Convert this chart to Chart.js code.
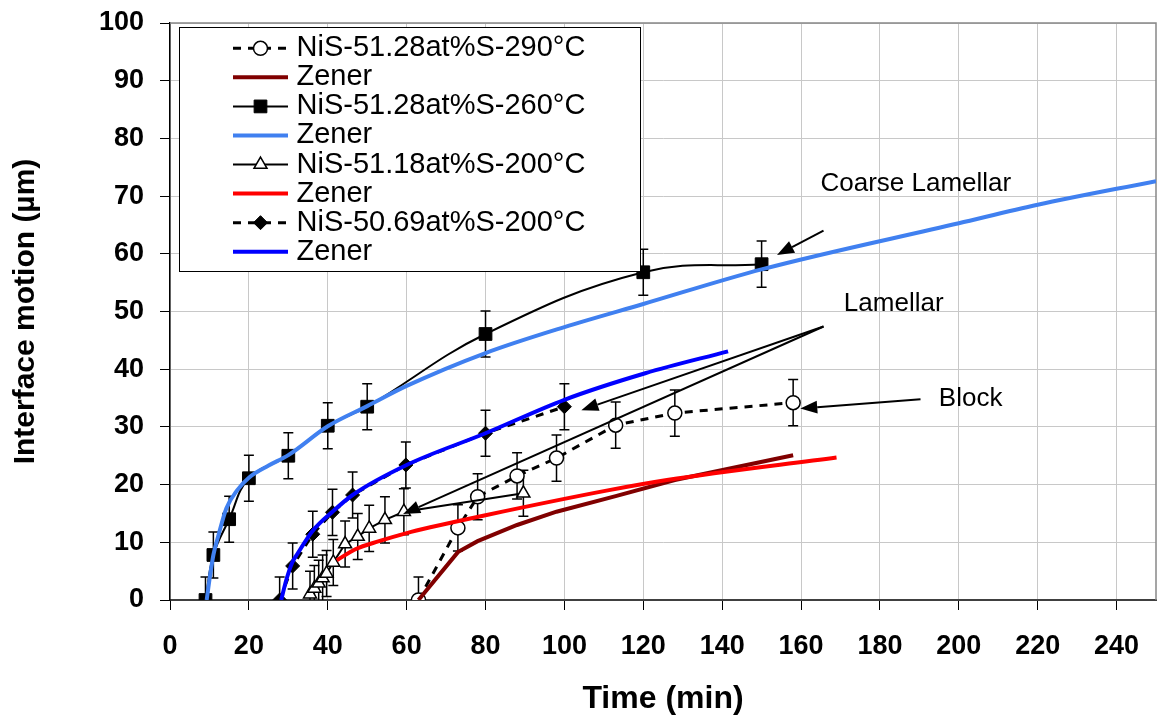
<!DOCTYPE html>
<html>
<head>
<meta charset="utf-8">
<script src="https://cdn.jsdelivr.net/npm/chart.js@4.4.1/dist/chart.umd.min.js"></script>
<style>
html,body{margin:0;padding:0;background:#fff;}
#wrap{width:1166px;height:720px;position:relative;}
</style>
</head>
<body>
<div id="wrap"><canvas id="c" width="1166" height="720"></canvas></div>
<script>
// ---------- DATA ----------
const xTickStep = 20;
const yTickStep = 10;

// NiS-51.28at%S-290°C (open circles, dashed)
const circT   = [63, 73, 78, 88, 98, 113, 128, 158];
const circV   = [0, 12.5, 17.9, 21.5, 24.6, 30.3, 32.4, 34.2];
const circErr = [4, 4, 4, 4, 4, 4, 4, 4];
// Zener (dark red)
const zDarkRedT = [63, 73, 78, 88, 98, 113, 128, 158];
const zDarkRedV = [0, 8.3, 10.2, 13.0, 15.3, 18.0, 20.8, 25.1];
// NiS-51.28at%S-260°C (filled squares)
const sqT   = [9, 11, 15, 20, 30, 40, 50, 80, 120, 150];
const sqV   = [0, 7.8, 14.0, 21.1, 25.0, 30.2, 33.5, 46.1, 56.8, 58.2];
const sqErr = [4, 4, 4, 4, 4, 4, 4, 4, 4, 4];
// Zener (light blue)
const zLightBlueT = [9.3, 10, 11, 12.2, 14.3, 17, 20, 25, 30, 40, 50, 60, 80, 100, 120, 150, 200, 220, 250];
const zLightBlueV = [0, 3.5, 7.8, 11.0, 15.9, 19.0, 21.2, 23.3, 25.1, 30.1, 33.6, 37.1, 42.8, 47.3, 51.3, 57.3, 65.3, 68.5, 72.6];
// NiS-51.18at%S-200°C (open triangles)
const triT   = [35.5, 36.6, 37.7, 38.7, 39.7, 41.4, 44.4, 47.6, 50.5, 54.5, 59.3, 89.6];
const triV   = [1.0, 2.0, 2.9, 3.8, 4.6, 6.5, 9.7, 11.0, 12.4, 13.9, 15.3, 18.5];
const triErr = [4, 4, 4, 4, 4, 4, 4, 4, 4, 4, 4, 4];
// Zener (red)
const zRedT = [42.3, 47, 53, 60, 66, 80, 111, 126, 169];
const zRedV = [6.9, 8.8, 10.2, 11.6, 12.6, 14.7, 19.0, 20.8, 24.7];
// NiS-50.69at%S-200°C (filled diamonds, dashed)
const diaT   = [27.8, 31.1, 36.2, 41.2, 46.3, 59.8, 80, 100];
const diaV   = [0, 5.9, 11.4, 15.2, 18.2, 23.4, 28.9, 33.5];
const diaErr = [4, 4, 4, 4, 4, 4, 4, 4];
// Zener (blue)
const zBlueT = [28.2, 29.5, 31, 32.4, 36.2, 41.2, 46.3, 60, 80, 100, 120.5, 141.5];
const zBlueV = [0, 3.5, 6.5, 8.1, 12.0, 15.3, 18.2, 23.4, 28.9, 34.7, 39.3, 43.1];

const seriesLabels = ['NiS-51.28at%S-290°C', 'Zener', 'NiS-51.28at%S-260°C', 'Zener',
                      'NiS-51.18at%S-200°C', 'Zener', 'NiS-50.69at%S-200°C', 'Zener'];

// Annotations (data units)
const noteText  = ['Coarse Lamellar', 'Lamellar', 'Block'];
const noteT     = [189.1, 183.5, 203];
const noteV     = [72.1, 51.3, 34.8];
const arrowFromT = [165.7, 165.7, 165.7, 190.3];
const arrowFromV = [64.0, 47.4, 47.4, 34.8];
const arrowToT   = [153.9, 104.3, 59.1, 159.8];
const arrowToV   = [59.8, 32.9, 14.9, 33.2];

// ---------- BUILD ----------
function pts(T, V) { return T.map((t, i) => ({x: t, y: V[i]})); }
const FONT = '"Liberation Sans", Arial, sans-serif';

const datasets = [
  {label: seriesLabels[0], data: pts(circT, circV), errors: circErr, borderColor: '#000', borderWidth: 3, borderDash: [8, 7],
   pointStyle: 'circle', pointRadius: 7, pointBackgroundColor: '#fff', pointBorderColor: '#000', pointBorderWidth: 1.5, tension: 0},
  {label: seriesLabels[1], data: pts(zDarkRedT, zDarkRedV), borderColor: '#800000', borderWidth: 4, pointRadius: 0, tension: 0},
  {label: seriesLabels[2], data: pts(sqT, sqV), errors: sqErr, borderColor: '#000', borderWidth: 2,
   pointStyle: 'rect', pointRadius: 9, pointBackgroundColor: '#000', pointBorderColor: '#000', pointBorderWidth: 1, tension: 0.4},
  {label: seriesLabels[3], data: pts(zLightBlueT, zLightBlueV), borderColor: '#4080f0', borderWidth: 4, pointRadius: 0, cubicInterpolationMode: 'monotone'},
  {label: seriesLabels[4], data: pts(triT, triV), errors: triErr, borderColor: '#000', borderWidth: 2,
   pointStyle: 'triangle', pointRadius: 7.5, pointBackgroundColor: '#fff', pointBorderColor: '#000', pointBorderWidth: 1.5, tension: 0},
  {label: seriesLabels[5], data: pts(zRedT, zRedV), borderColor: '#ff0000', borderWidth: 4, pointRadius: 0, cubicInterpolationMode: 'monotone'},
  {label: seriesLabels[6], data: pts(diaT, diaV), errors: diaErr, borderColor: '#000', borderWidth: 3, borderDash: [8, 7],
   pointStyle: 'rectRot', pointRadius: 7, pointBackgroundColor: '#000', pointBorderColor: '#000', pointBorderWidth: 1, tension: 0},
  {label: seriesLabels[7], data: pts(zBlueT, zBlueV), borderColor: '#0000ff', borderWidth: 4, pointRadius: 0, cubicInterpolationMode: 'monotone'}
];
datasets.forEach((d, i) => { d.showLine = true; d.order = datasets.length - i; d.pointHoverRadius = d.pointRadius; });

function drawMarker(ctx, ds, x, y) {
  if (!ds.pointRadius) return;
  ctx.save();
  ctx.setLineDash([]);
  ctx.fillStyle = ds.pointBackgroundColor;
  ctx.strokeStyle = ds.pointBorderColor;
  ctx.lineWidth = ds.pointBorderWidth;
  Chart.helpers.drawPoint(ctx, {pointStyle: ds.pointStyle, radius: ds.pointRadius, rotation: 0, borderWidth: ds.pointBorderWidth}, x, y);
  ctx.restore();
}

const framePlugin = {
  id: 'frame',
  beforeDatasetsDraw(chart) {
    const {ctx, chartArea: a} = chart;
    ctx.save();
    ctx.strokeStyle = '#888';
    ctx.lineWidth = 1.5;
    ctx.beginPath();
    ctx.moveTo(a.left, a.top); ctx.lineTo(a.right, a.top); ctx.lineTo(a.right, a.bottom);
    ctx.stroke();
    ctx.restore();
  }
};

const errorBarPlugin = {
  id: 'errorBars',
  beforeDatasetsDraw(chart) {
    const {ctx, chartArea: a} = chart;
    const xs = chart.scales.x, ys = chart.scales.y;
    ctx.save();
    ctx.beginPath();
    ctx.rect(a.left, a.top, a.right - a.left, a.bottom - a.top);
    ctx.clip();
    ctx.strokeStyle = '#000';
    ctx.lineWidth = 1.5;
    chart.data.datasets.forEach(ds => {
      if (!ds.errors) return;
      ds.data.forEach((p, i) => {
        const e = ds.errors[i];
        const px = xs.getPixelForValue(p.x);
        const y1 = ys.getPixelForValue(p.y + e), y2 = ys.getPixelForValue(p.y - e);
        ctx.beginPath();
        ctx.moveTo(px, y1); ctx.lineTo(px, y2);
        ctx.moveTo(px - 5, y1); ctx.lineTo(px + 5, y1);
        ctx.moveTo(px - 5, y2); ctx.lineTo(px + 5, y2);
        ctx.stroke();
      });
    });
    ctx.restore();
  }
};

const notesPlugin = {
  id: 'notes',
  afterDatasetsDraw(chart) {
    const {ctx} = chart;
    const xs = chart.scales.x, ys = chart.scales.y;
    ctx.save();
    ctx.strokeStyle = '#000';
    ctx.fillStyle = '#000';
    ctx.lineWidth = 2;
    for (let i = 0; i < arrowFromT.length; i++) {
      const x0 = xs.getPixelForValue(arrowFromT[i]), y0 = ys.getPixelForValue(arrowFromV[i]);
      const x1 = xs.getPixelForValue(arrowToT[i]), y1 = ys.getPixelForValue(arrowToV[i]);
      const ang = Math.atan2(y1 - y0, x1 - x0);
      const hl = 17, hw = 6.5;
      const bx = x1 - Math.cos(ang) * hl, by = y1 - Math.sin(ang) * hl;
      ctx.beginPath(); ctx.moveTo(x0, y0); ctx.lineTo(bx, by); ctx.stroke();
      ctx.beginPath();
      ctx.moveTo(x1, y1);
      ctx.lineTo(bx + Math.sin(ang) * hw, by - Math.cos(ang) * hw);
      ctx.lineTo(bx - Math.sin(ang) * hw, by + Math.cos(ang) * hw);
      ctx.closePath(); ctx.fill();
    }
    ctx.font = '26px ' + FONT;
    ctx.textAlign = 'center';
    ctx.textBaseline = 'middle';
    noteText.forEach((t, i) => ctx.fillText(t, xs.getPixelForValue(noteT[i]), ys.getPixelForValue(noteV[i])));
    ctx.restore();
  }
};

const boxLegendPlugin = {
  id: 'boxLegend',
  afterDraw(chart) {
    const {ctx} = chart;
    const L = 179.5, T = 27.5, R = 640.5, B = 271.5;
    ctx.save();
    ctx.fillStyle = '#fff';
    ctx.fillRect(L, T, R - L, B - T);
    ctx.strokeStyle = '#000';
    ctx.lineWidth = 1;
    ctx.strokeRect(L, T, R - L, B - T);
    chart.data.datasets.forEach((ds, i) => {
      const y = 48.3 + i * 29.06;
      ctx.save();
      ctx.strokeStyle = ds.borderColor;
      ctx.lineWidth = ds.borderWidth;
      ctx.setLineDash(ds.borderDash || []);
      ctx.beginPath(); ctx.moveTo(233, y); ctx.lineTo(288, y); ctx.stroke();
      ctx.restore();
      drawMarker(ctx, ds, 260.5, y);
      ctx.fillStyle = '#000';
      ctx.font = '29px ' + FONT;
      ctx.textAlign = 'left';
      ctx.textBaseline = 'middle';
      ctx.fillText(ds.label, 296.5, y);
    });
    ctx.restore();
  }
};

new Chart(document.getElementById('c'), {
  type: 'scatter',
  data: {datasets},
  plugins: [framePlugin, errorBarPlugin, notesPlugin, boxLegendPlugin],
  options: {
    responsive: false,
    animation: false,
    devicePixelRatio: 1,
    layout: {padding: {top: 23, right: 2, left: 0, bottom: 0}},
    plugins: {legend: {display: false}, tooltip: {enabled: false}},
    scales: {
      x: {
        type: 'linear', min: 0, max: 250,
        afterFit(s) { s.height = 120; s.paddingLeft = 0; s.paddingRight = 0; },
        ticks: {stepSize: xTickStep, includeBounds: false, padding: 20, color: '#000', maxRotation: 0, autoSkip: false,
                font: {family: FONT, size: 27, weight: 'bold'}},
        grid: {color: '#c8c8c8', lineWidth: 1, tickLength: 10, tickColor: '#000', tickWidth: 1},
        border: {color: '#404040', width: 2},
        title: {display: true, text: 'Time (min)', color: '#000', font: {family: FONT, size: 32, weight: 'bold'}, padding: {top: 0, bottom: 2}}
      },
      y: {
        type: 'linear', min: 0, max: 100,
        afterFit(s) { s.width = 170; s.paddingTop = 0; s.paddingBottom = 0; },
        ticks: {stepSize: yTickStep, padding: 16, color: '#000', font: {family: FONT, size: 27, weight: 'bold'}},
        grid: {color: '#c8c8c8', lineWidth: 1, tickLength: 10, tickColor: '#000', tickWidth: 1},
        border: {color: '#000', width: 1.5},
        title: {display: true, text: 'Interface motion (µm)', color: '#000', font: {family: FONT, size: 30, weight: 'bold'}, padding: {top: 8, bottom: 0}}
      }
    }
  }
});
</script>
</body>
</html>
